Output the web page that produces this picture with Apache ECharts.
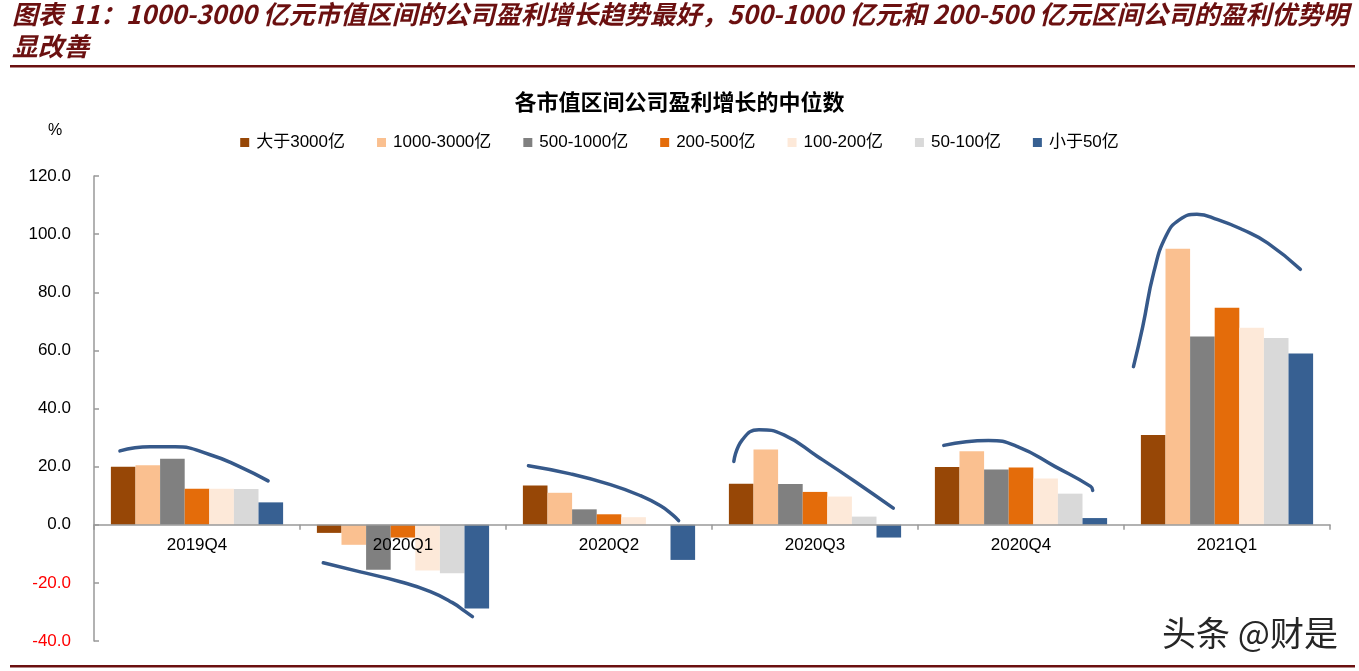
<!DOCTYPE html>
<html>
<head>
<meta charset="utf-8">
<script src="https://cdn.jsdelivr.net/npm/echarts@6/dist/echarts.min.js"></script>
<style>
html,body{margin:0;padding:0;background:#fff;}
#c{width:1359px;height:671px;}
</style>
</head>
<body>
<div id="c"></div>
<script>
// ---- data ----
const categories = ['2019Q4', '2020Q1', '2020Q2', '2020Q3', '2020Q4', '2021Q1'];
const seriesNames = ['大于3000亿', '1000-3000亿', '500-1000亿', '200-500亿', '100-200亿', '50-100亿', '小于50亿'];
const gt3000   = [20.0, -2.8, 13.5, 14.1, 19.9, 30.9];
const s1000_3000 = [20.5, -6.9, 11.0, 25.9, 25.3, 95.0];
const s500_1000  = [22.7, -15.5, 5.3, 14.0, 19.0, 64.8];
const s200_500   = [12.4, -4.4, 3.6, 11.3, 19.7, 74.7];
const s100_200   = [12.4, -15.7, 2.6, 9.7, 15.9, 67.8];
const s50_100    = [12.3, -16.7, 0.0, 2.8, 10.7, 64.3];
const lt50       = [7.7, -28.8, -12.1, -4.4, 2.3, 58.9];
const yTicks = [-40, -20, 0, 20, 40, 60, 80, 100, 120];

// hand-drawn annotation strokes, in data units (x: category position 0..6, y: %)
const stroke1 = [[0.126,25.4],[0.272,26.8],[0.394,26.8],[0.564,24.1],[0.709,19.9],[0.845,15.1]];
const stroke2 = [[1.113,-13.1],[1.293,-16.2],[1.487,-19.6],[1.633,-23.0],[1.740,-26.8],[1.803,-29.9],[1.837,-31.6]];
const stroke3 = [[2.109,20.3],[2.313,17.5],[2.507,13.8],[2.653,10.0],[2.750,6.5],[2.809,3.4],[2.838,1.4]];
const stroke4 = [[3.106,21.8],[3.147,29.2],[3.228,32.7],[3.349,30.9],[3.512,23.5],[3.694,14.9],[3.880,5.7]];
const stroke5 = [[4.125,27.3],[4.342,29.0],[4.483,26.9],[4.666,20.0],[4.838,13.2],[4.848,11.8]];
const stroke6 = [[5.046,54.4],[5.091,68.2],[5.145,87.0],[5.205,99.5],[5.270,105.0],[5.354,106.8],[5.455,105.0],[5.577,101.5],[5.698,96.9],[5.856,87.9]];

const headerLine1 = '图表 11：1000-3000 亿元市值区间的公司盈利增长趋势最好，500-1000 亿元和 200-500 亿元区间公司的盈利优势明';
const headerLine2 = '显改善';
const chartTitle = '各市值区间公司盈利增长的中位数';

// ---- style / layout ----
const colors = ['#974706', '#FAC090', '#808080', '#E46C0A', '#FDE9D9', '#D9D9D9', '#376092'];
const values = [gt3000, s1000_3000, s500_1000, s200_500, s100_200, s50_100, lt50];
const latin = '"Liberation Sans", Arial, "Noto Sans CJK SC", sans-serif';
const cjk = '"Noto Sans CJK SC", sans-serif';
const maroon = '#6b1010';
const H = 671, gridTop = 176, gridBottom = 30;
const gridHeight = H - gridTop - gridBottom;
const yMin = yTicks[0], yMax = yTicks[yTicks.length - 1];
// lift the category axis (line, ticks, labels) up to the zero line
const zeroOffset = -gridHeight * (0 - yMin) / (yMax - yMin);

const barSeries = seriesNames.map((n, i) => ({
  name: n,
  type: 'bar',
  data: values[i],
  itemStyle: { color: colors[i] },
  barGap: '0%',
  barCategoryGap: '16.4%',
  silent: true
}));

const strokes = [stroke1, stroke2, stroke3, stroke4, stroke5, stroke6];
const strokeSeries = strokes.map(s => ({
  type: 'line',
  xAxisIndex: 1,
  data: s,
  smooth: 0.5,
  symbol: 'none',
  silent: true,
  z: 5,
  lineStyle: { color: '#36598a', width: 3.5, cap: 'round' }
}));

const chart = echarts.init(document.getElementById('c'));
chart.setOption({
  animation: false,
  backgroundColor: '#fff',
  title: {
    text: chartTitle,
    left: 'center',
    top: 86,
    textStyle: { fontFamily: cjk, fontSize: 22, fontWeight: 'bold', color: '#000' }
  },
  legend: {
    data: seriesNames,
    left: 'center',
    top: 129,
    icon: 'rect',
    itemWidth: 9,
    itemHeight: 9,
    itemGap: 32,
    selectedMode: false,
    textStyle: { fontFamily: latin, fontSize: 17, color: '#000', padding: [0, 0, 0, 2] }
  },
  grid: { left: 94, right: 29, top: gridTop, bottom: gridBottom, containLabel: false },
  xAxis: [{
    type: 'category',
    data: categories,
    z: 4,
    position: 'bottom',
    offset: zeroOffset,
    axisLine: { onZero: false, lineStyle: { color: '#999', width: 1.5 } },
    axisTick: { show: true, length: 5, lineStyle: { color: '#999', width: 1.5 } },
    axisLabel: { fontFamily: latin, fontSize: 17, color: '#000', margin: 12 },
    splitLine: { show: false }
  }, {
    type: 'value',
    min: 0,
    max: 6,
    show: false
  }],
  yAxis: {
    type: 'value',
    min: yMin,
    max: yMax,
    interval: 20,
    axisLine: { show: true, lineStyle: { color: '#999', width: 1.5 } },
    axisTick: { show: true, inside: true, length: 5, lineStyle: { color: '#999', width: 1.5 } },
    axisLabel: {
      fontFamily: latin, fontSize: 17, margin: 23,
      formatter: v => v.toFixed(1),
      color: v => (Number(v) < 0 ? '#ff0000' : '#000')
    },
    splitLine: { show: false }
  },
  series: barSeries.concat(strokeSeries),
  graphic: [
    { type: 'text', left: 12, top: 1, style: { text: headerLine1, font: 'italic bold 25.8px ' + cjk, fill: maroon } },
    { type: 'text', left: 12, top: 33, style: { text: headerLine2, font: 'italic bold 25.8px ' + cjk, fill: maroon } },
    { type: 'rect', shape: { x: 10, y: 65, width: 1345, height: 2.5 }, style: { fill: maroon } },
    { type: 'rect', shape: { x: 10, y: 665, width: 1345, height: 2.5 }, style: { fill: maroon } },
    { type: 'text', x: 55, y: 131, style: { text: '%', font: '16px ' + latin, fill: '#000', textAlign: 'center', textVerticalAlign: 'middle' } },
    { type: 'text', x: 1250, y: 633, z: 10, style: { text: '头条 @财是', font: '34px ' + cjk, fill: '#262626', stroke: '#fff', lineWidth: 1, textAlign: 'center', textVerticalAlign: 'middle' } }
  ]
});
</script>
</body>
</html>
